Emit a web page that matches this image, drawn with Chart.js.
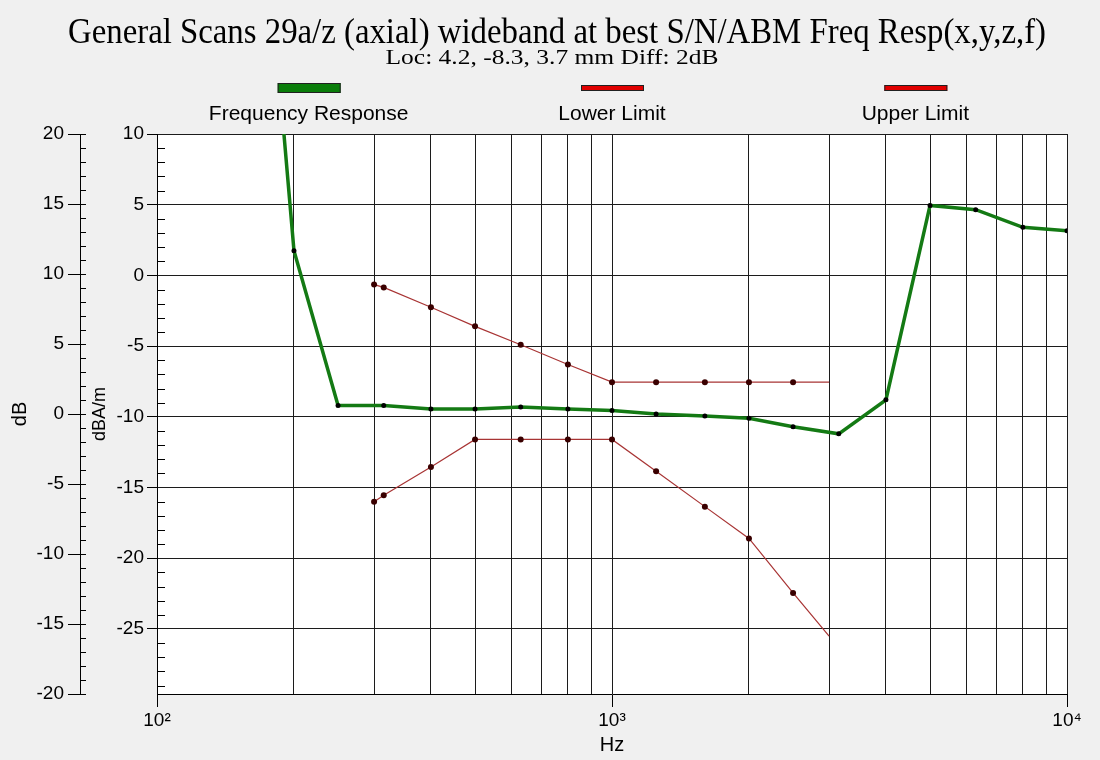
<!DOCTYPE html>
<html>
<head>
<meta charset="utf-8">
<script src="https://cdn.jsdelivr.net/npm/chart.js@4.4.1/dist/chart.umd.min.js"></script>
<style>
html, body { margin: 0; padding: 0; background: #f0f0f0; }
#wrap { width: 1100px; height: 760px; }
</style>
</head>
<body>
<div id="wrap"><canvas id="chart" width="1100" height="760"></canvas></div>
<script>
// values (dBA/m on the right hand axis)
const respFreqs = [160, 200, 250, 315, 400, 500, 630, 800, 1000, 1250, 1600, 2000, 2500, 3150, 4000, 5000, 6300, 8000, 10000];
const respValues = [38, 1.75, -9.2, -9.2, -9.45, -9.45, -9.3, -9.45, -9.55, -9.8, -9.95, -10.1, -10.7, -11.2, -8.8, 4.95, 4.65, 3.4, 3.15];

const limitFreqs = [300, 315, 400, 500, 630, 800, 1000, 1250, 1600, 2000, 2500, 3000];
const lowerValues = [-16.0, -15.55, -13.55, -11.6, -11.6, -11.6, -11.6, -13.85, -16.35, -18.6, -22.45, -25.5];
const upperValues = [-0.65, -0.85, -2.25, -3.6, -4.9, -6.3, -7.55, -7.55, -7.55, -7.55, -7.55, -7.55];

// axes
const xGrid = [100, 200, 300, 400, 500, 600, 700, 800, 900, 1000, 2000, 3000, 4000, 5000, 6000, 7000, 8000, 9000, 10000];
const decades = [100, 1000, 10000];
const decadeLabels = ['10²', '10³', '10⁴'];
const dbaMin = -29.6, dbaMax = 10;
const dbMin = -20, dbMax = 20;

const titleText = 'General Scans 29a/z (axial) wideband at best S/N/ABM Freq Resp(x,y,z,f)';
const subtitleText = 'Loc: 4.2, -8.3, 3.7 mm Diff: 2dB';

function toPoints(xs, ys) {
    return xs.map((x, i) => ({ x: x, y: ys[i] }));
}

function intTicks(lo, hi) {
    const out = [];
    for (let v = Math.ceil(lo); v <= Math.floor(hi); v++) out.push({ value: v });
    return out;
}

const isMajor = v => v % 5 === 0;
const clear = 'rgba(0,0,0,0)';
const gridCol = '#1c1c1c';

// draw a line of text squeezed/stretched to a given width
function fitText(ctx, text, cx, y, width) {
    const w = ctx.measureText(text).width;
    ctx.save();
    ctx.translate(cx, y);
    ctx.scale(width / w, 1);
    ctx.fillText(text, 0, 0);
    ctx.restore();
}

const legendBoxes = [
    { color: '#0a7d0a', h: 10 },
    { color: '#e00000', h: 6 },
    { color: '#e00000', h: 6 }
];

const decor = {
    id: 'decor',
    beforeDraw(chart) {
        const { ctx, chartArea: a } = chart;
        ctx.save();
        ctx.fillStyle = '#ffffff';
        ctx.fillRect(a.left, a.top, a.right - a.left, a.bottom - a.top);
        ctx.restore();
    },
    afterDraw(chart) {
        const { ctx, chartArea: a } = chart;
        const y = chart.scales.y, yDb = chart.scales.yDb;
        ctx.save();
        // small ticks on the inner side of both value axes
        ctx.strokeStyle = '#000';
        ctx.lineWidth = 1;
        ctx.beginPath();
        y.ticks.forEach(t => {
            if (isMajor(t.value)) return;
            const p = Math.round(y.getPixelForValue(t.value)) + 0.5;
            ctx.moveTo(y.right, p);
            ctx.lineTo(y.right + 8, p);
        });
        yDb.ticks.forEach(t => {
            const p = Math.round(yDb.getPixelForValue(t.value)) + 0.5;
            ctx.moveTo(yDb.right, p);
            ctx.lineTo(yDb.right + 6, p);
        });
        ctx.stroke();

        // title + subtitle (condensed serif)
        ctx.fillStyle = '#000';
        ctx.textAlign = 'center';
        ctx.textBaseline = 'alphabetic';
        ctx.font = '35px "Liberation Serif"';
        fitText(ctx, titleText, 557, 43, 978);
        ctx.font = '22px "Liberation Serif"';
        fitText(ctx, subtitleText, 552, 64, 333);

        // legend: bar above, name below
        const slot = (a.right - a.left) / chart.data.datasets.length;
        ctx.font = '21px "Liberation Sans"';
        chart.data.datasets.forEach((ds, i) => {
            const cx = a.left + slot * (i + 0.5);
            const b = legendBoxes[i];
            ctx.fillStyle = b.color;
            ctx.fillRect(cx - 31, 88 - b.h / 2, 63, b.h);
            ctx.strokeStyle = '#202020';
            ctx.lineWidth = 1;
            ctx.strokeRect(cx - 31 + 0.5, 88 - b.h / 2 + 0.5, 62, b.h - 1);
            ctx.fillStyle = '#000';
            ctx.fillText(ds.label, cx, 120);
        });
        ctx.restore();
    }
};

new Chart(document.getElementById('chart'), {
    type: 'line',
    data: {
        datasets: [
            {
                label: 'Frequency Response',
                data: toPoints(respFreqs, respValues),
                borderColor: '#147a14',
                borderWidth: 3.5,
                pointRadius: 2.5,
                pointBackgroundColor: '#000',
                pointBorderWidth: 0,
                tension: 0
            },
            {
                label: 'Lower Limit',
                data: toPoints(limitFreqs, lowerValues),
                borderColor: '#a83434',
                borderWidth: 1.2,
                pointRadius: c => (c.dataIndex === limitFreqs.length - 1 ? 0 : 3),
                pointBackgroundColor: '#3a0000',
                pointBorderWidth: 0,
                tension: 0
            },
            {
                label: 'Upper Limit',
                data: toPoints(limitFreqs, upperValues),
                borderColor: '#a83434',
                borderWidth: 1.2,
                pointRadius: c => (c.dataIndex === limitFreqs.length - 1 ? 0 : 3),
                pointBackgroundColor: '#3a0000',
                pointBorderWidth: 0,
                tension: 0
            }
        ]
    },
    options: {
        responsive: false,
        animation: false,
        layout: { padding: { top: 134, right: 33, bottom: 0, left: 0 } },
        plugins: {
            legend: { display: false },
            tooltip: { enabled: false }
        },
        scales: {
            x: {
                type: 'logarithmic',
                min: 100,
                max: 10000,
                afterBuildTicks: s => { s.ticks = xGrid.map(v => ({ value: v })); },
                afterFit: s => { s.height = 66; },
                grid: {
                    color: gridCol,
                    lineWidth: 1,
                    tickLength: 13,
                    tickColor: c => (c.tick && decades.includes(c.tick.value) ? '#000' : clear)
                },
                border: { color: '#000' },
                ticks: {
                    autoSkip: false,
                    maxRotation: 0,
                    color: '#000',
                    padding: 2,
                    font: { family: '"Liberation Sans Narrow", "Liberation Sans"', size: 19 },
                    callback: v => {
                        const i = decades.indexOf(v);
                        return i < 0 ? '' : decadeLabels[i];
                    }
                },
                title: {
                    display: true,
                    text: 'Hz',
                    color: '#000',
                    font: { family: '"Liberation Sans Narrow", "Liberation Sans"', size: 20 },
                    padding: { top: 0, bottom: 3 }
                }
            },
            y: {
                position: 'left',
                weight: 0,
                min: dbaMin,
                max: dbaMax,
                afterBuildTicks: s => { s.ticks = intTicks(dbaMin, dbaMax); },
                afterFit: s => { s.width = 77; },
                grid: {
                    color: c => (c.tick && isMajor(c.tick.value) ? gridCol : clear),
                    tickColor: c => (c.tick && isMajor(c.tick.value) ? '#000' : clear),
                    tickLength: 10
                },
                border: { color: '#000' },
                ticks: {
                    autoSkip: false,
                    color: '#000',
                    padding: 3,
                    font: { family: '"Liberation Sans"', size: 19 },
                    callback: v => (isMajor(v) ? String(v) : '')
                },
                title: {
                    display: true,
                    text: 'dBA/m',
                    color: '#000',
                    font: { family: '"Liberation Sans"', size: 18 },
                    padding: { top: 9, bottom: 0 }
                }
            },
            yDb: {
                position: 'left',
                weight: 1,
                min: dbMin,
                max: dbMax,
                afterBuildTicks: s => { s.ticks = intTicks(dbMin, dbMax); },
                afterFit: s => { s.width = 80; },
                grid: {
                    drawOnChartArea: false,
                    tickColor: c => (c.tick && isMajor(c.tick.value) ? '#000' : clear),
                    tickLength: 12
                },
                border: { color: '#000' },
                ticks: {
                    autoSkip: false,
                    color: '#000',
                    padding: 4,
                    font: { family: '"Liberation Sans"', size: 19 },
                    callback: v => (isMajor(v) ? String(v) : '')
                },
                title: {
                    display: true,
                    text: 'dB',
                    color: '#000',
                    font: { family: '"Liberation Sans"', size: 20 },
                    padding: { top: 8, bottom: 0 }
                }
            }
        }
    },
    plugins: [decor]
});
</script>
</body>
</html>
